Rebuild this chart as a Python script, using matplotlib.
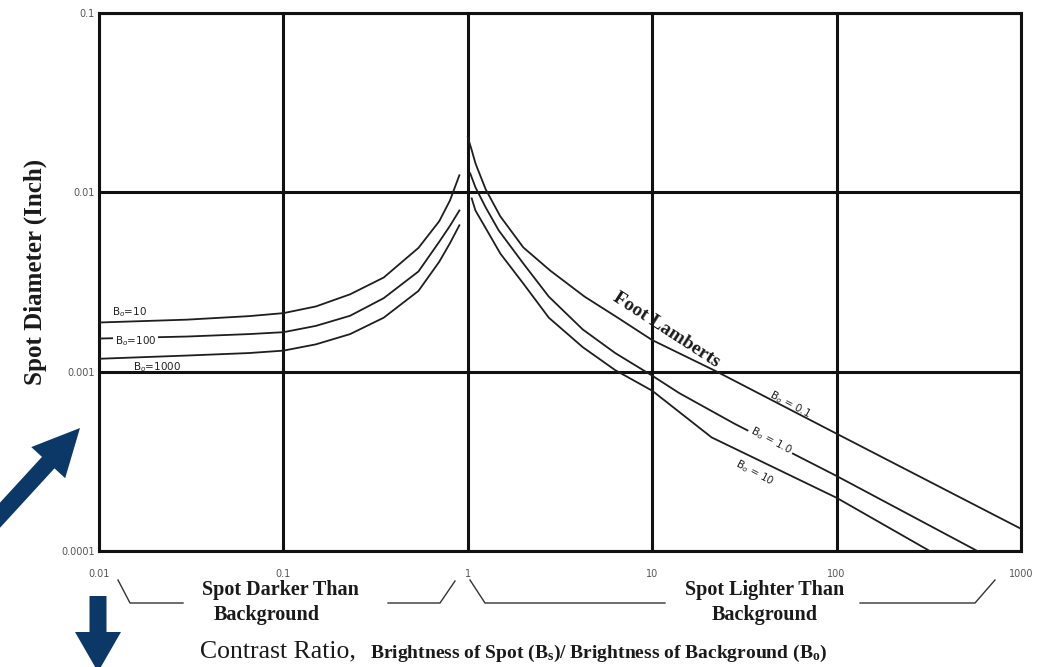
import numpy as np
import matplotlib
matplotlib.use("Agg")
import matplotlib.pyplot as plt
from matplotlib.patches import Polygon
from matplotlib.transforms import Affine2D
from matplotlib.lines import Line2D
from matplotlib.ticker import NullLocator

plt.rcParams['mathtext.fontset'] = 'custom'
plt.rcParams['mathtext.rm'] = 'Liberation Serif:bold'
plt.rcParams['mathtext.it'] = 'Liberation Serif:bold'

# ---------------- data ----------------
x_ticks = [0.01, 0.1, 1, 10, 100, 1000]
x_tick_labels = ["0.01", "0.1", "1", "10", "100", "1000"]
y_ticks = [0.0001, 0.001, 0.01, 0.1]
y_tick_labels = ["0.0001", "0.001", "0.01", "0.1"]

# Spot darker than background (Bo in foot lamberts)
dark_x = [0.01, 0.03, 0.065, 0.1, 0.15, 0.23, 0.35, 0.54, 0.7, 0.8, 0.9]
dark_bo10 = [0.00188, 0.00195, 0.00204, 0.00212, 0.00231, 0.00270, 0.00335, 0.00490, 0.00690, 0.0090, 0.01245]
dark_bo100 = [0.00153, 0.00157, 0.00162, 0.00166, 0.00180, 0.00205, 0.00257, 0.00362, 0.0053, 0.0065, 0.00792]
dark_bo1000 = [0.00118, 0.00123, 0.00127, 0.00131, 0.00142, 0.00162, 0.0020, 0.00282, 0.0041, 0.0052, 0.00655]

# Spot lighter than background
light_bo01_x = [1.0, 1.05, 1.1, 1.25, 1.5, 2.0, 2.8, 4.3, 6.5, 10, 22, 100, 1000]
light_bo01_y = [0.0203, 0.0172, 0.01452, 0.01040, 0.00735, 0.00493, 0.00366, 0.00262, 0.0020, 0.00150, 0.00101, 0.000451, 0.000133]
light_bo1_x = [1.03, 1.1, 1.25, 1.47, 2.0, 2.75, 4.2, 6.3, 10, 14, 28, 100, 580]
light_bo1_y = [0.01277, 0.01067, 0.00824, 0.00614, 0.00401, 0.00262, 0.00172, 0.00127, 0.00095, 0.000760, 0.000512, 0.000262, 0.0001]
light_bo10_x = [1.05, 1.1, 1.27, 1.5, 2.0, 2.75, 4.2, 6.3, 10, 21, 100, 320]
light_bo10_y = [0.00925, 0.00792, 0.00614, 0.00456, 0.0031, 0.0020, 0.00137, 0.00102, 0.000783, 0.000430, 0.000198, 0.0001]

W, H = 1053, 667
fig = plt.figure(figsize=(W / 100, H / 100), dpi=100)
fig.patch.set_facecolor('white')
# pixel transform (origin top-left, like the image)
T = Affine2D().scale(1, -1).translate(0, H).scale(1 / W, 1 / H) + fig.transFigure

ax_l, ax_r, ax_t, ax_b = 99, 1021, 13, 551
ax = fig.add_axes([ax_l / W, 1 - ax_b / H, (ax_r - ax_l) / W, (ax_b - ax_t) / H])
ax.set_xscale('log')
ax.set_yscale('log')
ax.set_xlim(0.01, 1000)
ax.set_ylim(0.0001, 0.1)
ax.set_xticks(x_ticks)
ax.set_xticklabels(x_tick_labels)
ax.set_yticks(y_ticks)
ax.set_yticklabels(y_tick_labels)
ax.xaxis.set_minor_locator(NullLocator())
ax.yaxis.set_minor_locator(NullLocator())
ax.tick_params(axis='both', length=0, labelsize=7, colors='#555555')
ax.tick_params(axis='x', pad=13)
ax.tick_params(axis='y', pad=3)
ax.grid(True, which='major', color='#111111', lw=2.2)
for s in ax.spines.values():
    s.set_linewidth(2.2)
    s.set_color('#111111')

lc = '#1e1e1e'
lw = 1.3
ax.plot(dark_x, dark_bo10, color=lc, lw=lw, zorder=3)
ax.plot(dark_x, dark_bo100, color=lc, lw=lw, zorder=3)
ax.plot(dark_x, dark_bo1000, color=lc, lw=lw, zorder=3)
ax.plot(light_bo01_x, light_bo01_y, color=lc, lw=lw, zorder=3)
ax.plot(light_bo1_x, light_bo1_y, color=lc, lw=lw, zorder=3)
ax.plot(light_bo10_x, light_bo10_y, color=lc, lw=lw, zorder=3)

lab = dict(fontsize=7.5, color='#222222', family='DejaVu Sans', math_fontfamily='dejavusans', zorder=5)
ax.text(0.0118, 0.00216, "B$_o$=10", ha='left', va='center', **lab)
ax.text(0.0122, 0.00149, "B$_o$=100", ha='left', va='center',
        bbox=dict(boxstyle='square,pad=0.15', fc='white', ec='none'), **lab)
ax.text(0.0153, 0.00106, "B$_o$=1000", ha='left', va='center', **lab)

ax.text(56, 0.00066, "B$_o$ = 0.1", ha='center', va='center', rotation=-28, **lab)
ax.text(44, 0.000412, "B$_o$ = 1.0", ha='center', va='center', rotation=-28,
        bbox=dict(boxstyle='square,pad=0.2', fc='white', ec='none'), **lab)
ax.text(36, 0.000273, "B$_o$ = 10", ha='center', va='center', rotation=-28, **lab)
ax.text(11.9, 0.00170, "Foot Lamberts", ha='center', va='center', rotation=-33,
        family='Liberation Serif', weight='bold', fontsize=14, color='#1a1a1a', zorder=5)

# y label
fig.text(35, 272, "Spot Diameter (Inch)", transform=T, rotation=90, ha='center', va='center',
         family='Liberation Serif', weight='bold', fontsize=18, color='#1a1a1a')

# bottom annotations
bt = dict(transform=T, ha='center', va='center', family='Liberation Serif', weight='bold',
          fontsize=14.5, color='#1a1a1a')
fig.text(280, 590, "Spot Darker Than", **bt)
fig.text(267, 615, "Background", **bt)
fig.text(765, 590, "Spot Lighter Than", **bt)
fig.text(765, 615, "Background", **bt)

bracket = dict(transform=T, color='#333333', lw=1.0)
fig.add_artist(Line2D([118, 130, 183], [580, 603, 603], **bracket))
fig.add_artist(Line2D([388, 440, 455], [603, 603, 581], **bracket))
fig.add_artist(Line2D([470, 485, 665], [580, 603, 603], **bracket))
fig.add_artist(Line2D([860, 975, 995], [603, 603, 580], **bracket))

fig.text(200, 651, "Contrast Ratio,", transform=T, ha='left', va='center',
         family='Liberation Serif', fontsize=18.5, color='#1a1a1a')
fig.text(370, 653, "Brightness of Spot (B$_s$)/ Brightness of Background (B$_o$)", transform=T,
         ha='left', va='center', family='Liberation Serif', weight='bold', fontsize=14,
         color='#1a1a1a')


def arrow_poly(tail, tip, shaft_w, head_w, head_l):
    tail = np.array(tail, float)
    tip = np.array(tip, float)
    d = tip - tail
    L = np.hypot(*d)
    u = d / L
    n = np.array([-u[1], u[0]])
    base = tip - u * head_l
    pts = [tail + n * shaft_w / 2, base + n * shaft_w / 2, base + n * head_w / 2, tip,
           base - n * head_w / 2, base - n * shaft_w / 2, tail - n * shaft_w / 2]
    return np.array(pts)


navy = '#0c3868'
fig.add_artist(Polygon(arrow_poly((-20, 537), (80, 428), 17, 46, 47), closed=True,
                       transform=T, fc=navy, ec='none'))
fig.add_artist(Polygon(arrow_poly((98, 596), (98, 672), 17, 46, 40), closed=True,
                       transform=T, fc=navy, ec='none'))

fig.savefig("out.png", dpi=100, facecolor='white')
